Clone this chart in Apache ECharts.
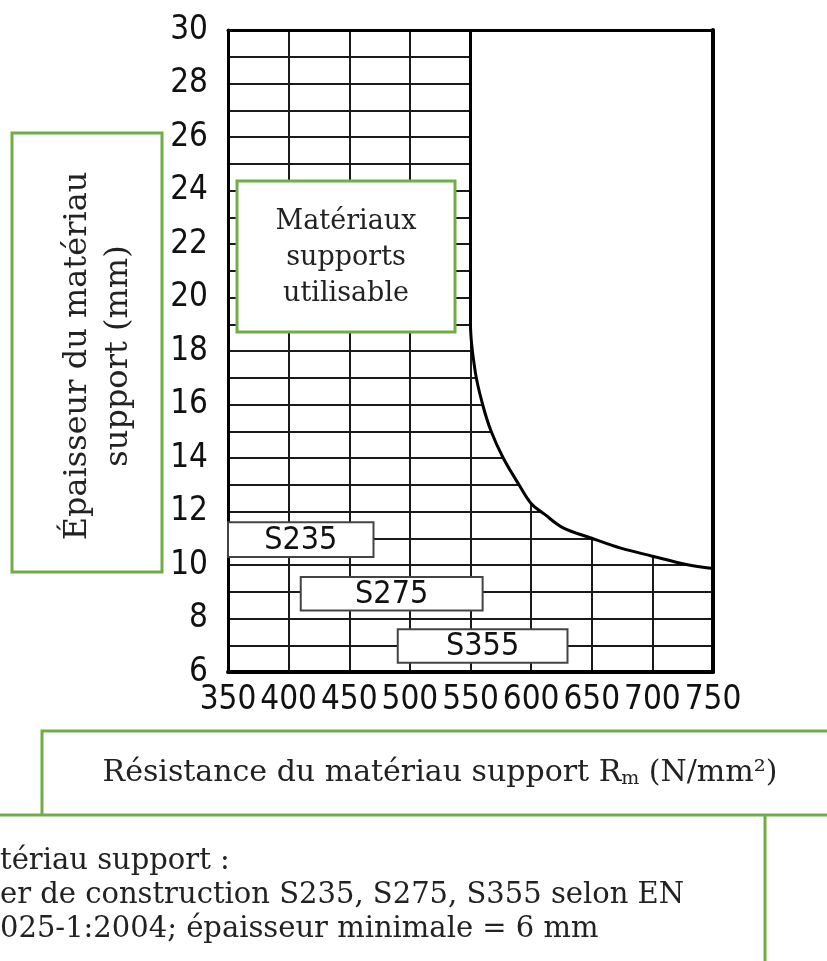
<!DOCTYPE html>
<html>
<head>
<meta charset="utf-8">
<script src="https://cdn.jsdelivr.net/npm/echarts@6/dist/echarts.min.js"></script>
<style>
  html, body { margin: 0; padding: 0; background: #fff; }
  #chart { width: 827px; height: 961px; }
</style>
</head>
<body>
<div id="chart"></div>
<script>
// axes
const xTicks = [350, 400, 450, 500, 550, 600, 650, 700, 750];
const yTicks = [6, 8, 10, 12, 14, 16, 18, 20, 22, 24, 26, 28, 30];

// limit curve (Rm in N/mm², thickness in mm)
const limitRm = [550, 550, 554, 560, 567, 577, 590, 600, 611, 626, 650, 674, 700, 728, 750];
const limitThk = [30, 19, 17.2, 16.0, 15.0, 14.0, 13.0, 12.3, 11.9, 11.4, 11.0, 10.63, 10.33, 10.02, 9.87];

// steel grade boxes
const steelGrades = ["S235", "S275", "S355"];
const steelRmMin = [350, 410, 490];
const steelRmMax = [470, 560, 630];
const steelThkMin = [10.3, 8.3, 6.35];
const steelThkMax = [11.6, 9.55, 7.6];

const GREEN = "#70ad47";
const SERIF = "'DejaVu Serif', 'Liberation Serif', serif";
const NARROW = "'Liberation Sans Narrow', 'DejaVu Sans Condensed', 'Liberation Sans', sans-serif";

const chart = echarts.init(document.getElementById("chart"), null, { renderer: "canvas" });

const gridLine = { show: true, lineStyle: { color: "#1a1a1a", width: 2 } };

const option = {
  animation: false,
  backgroundColor: "#fff",
  grid: { left: 228, right: 114, top: 30, bottom: 289 },
  xAxis: [
    {
      type: "value",
      min: 350,
      max: 750,
      interval: 50,
      axisLine: { show: true, onZero: false, lineStyle: { color: "#000", width: 4 } },
      axisTick: { show: false },
      splitLine: gridLine,
      axisLabel: {
        color: "#111",
        fontFamily: NARROW,
        fontSize: 33,
        margin: 12,
        formatter: (v) => (xTicks.includes(v) ? String(v) : ""),
      },
    },
    {
      type: "value",
      position: "top",
      min: 350,
      max: 750,
      z: 10,
      axisLine: { show: true, onZero: false, lineStyle: { color: "#000", width: 3 } },
      axisTick: { show: false },
      axisLabel: { show: false },
      splitLine: { show: false },
    },
  ],
  yAxis: [
    {
      type: "value",
      min: 6,
      max: 30,
      interval: 1,
      axisLine: { show: true, onZero: false, lineStyle: { color: "#000", width: 3 } },
      axisTick: { show: false },
      splitLine: gridLine,
      axisLabel: {
        color: "#111",
        fontFamily: NARROW,
        fontSize: 33,
        margin: 20,
        formatter: (v) => (yTicks.includes(v) ? String(v) : ""),
      },
    },
    {
      type: "value",
      position: "right",
      min: 6,
      max: 30,
      z: 10,
      axisLine: { show: true, onZero: false, lineStyle: { color: "#000", width: 4 } },
      axisTick: { show: false },
      axisLabel: { show: false },
      splitLine: { show: false },
    },
  ],
  series: [
    {
      name: "limite",
      type: "line",
      z: 5,
      silent: true,
      symbol: "none",
      smooth: 0.35,
      data: limitRm.map((rm, i) => [rm, limitThk[i]]),
      lineStyle: { color: "#000", width: 3 },
      areaStyle: { color: "#fff", opacity: 1, origin: "end" },
    },
    {
      name: "nuances",
      type: "custom",
      z: 15,
      silent: true,
      encode: { x: [0, 1], y: [2, 3] },
      data: steelGrades.map((g, i) => [steelRmMin[i], steelRmMax[i], steelThkMin[i], steelThkMax[i]]),
      renderItem: (params, api) => {
        const p0 = api.coord([api.value(0), api.value(3)]);
        const p1 = api.coord([api.value(1), api.value(2)]);
        return {
          type: "group",
          children: [
            {
              type: "rect",
              shape: { x: p0[0], y: p0[1], width: p1[0] - p0[0], height: p1[1] - p0[1] },
              style: { fill: "#fff", stroke: "#444", lineWidth: 2 },
            },
            {
              type: "text",
              x: (p0[0] + p1[0]) / 2,
              y: (p0[1] + p1[1]) / 2 + 1,
              style: {
                text: steelGrades[params.dataIndex],
                fill: "#111",
                font: "32px " + NARROW,
                align: "center",
                verticalAlign: "middle",
              },
            },
          ],
        };
      },
    },
  ],
  graphic: [
    // box inside the plot
    {
      type: "rect",
      z: 100,
      shape: { x: 237, y: 181, width: 218, height: 151 },
      style: { fill: "#fff", stroke: GREEN, lineWidth: 3 },
    },
    {
      type: "text",
      z: 101,
      x: 346,
      y: 258,
      style: {
        text: "Matériaux\nsupports\nutilisable",
        font: "27px " + SERIF,
        lineHeight: 36,
        fill: "#222",
        align: "center",
        verticalAlign: "middle",
      },
    },
    // y axis title box
    {
      type: "rect",
      z: 100,
      shape: { x: 12, y: 133, width: 150, height: 439 },
      style: { fill: "#fff", stroke: GREEN, lineWidth: 3 },
    },
    {
      type: "text",
      z: 101,
      x: 98,
      y: 356,
      rotation: Math.PI / 2,
      style: {
        text: "Épaisseur du matériau\nsupport (mm)",
        font: "32px " + SERIF,
        lineHeight: 41,
        fill: "#222",
        align: "center",
        verticalAlign: "middle",
      },
    },
    // x axis title box
    {
      type: "polyline",
      z: 100,
      shape: { points: [[42, 815], [42, 731], [840, 731]] },
      style: { stroke: GREEN, lineWidth: 3, fill: null },
    },
    {
      type: "line",
      z: 100,
      shape: { x1: 0, y1: 815, x2: 827, y2: 815 },
      style: { stroke: GREEN, lineWidth: 3 },
    },
    {
      type: "line",
      z: 100,
      shape: { x1: 765, y1: 815, x2: 765, y2: 961 },
      style: { stroke: GREEN, lineWidth: 3 },
    },
    {
      type: "text",
      z: 101,
      x: 440,
      y: 773,
      style: {
        text: "{a|Résistance du matériau support R}{s|m}{a| (N/mm²)}",
        align: "center",
        verticalAlign: "middle",
        rich: {
          a: { font: "30px " + SERIF, fill: "#222" },
          s: { font: "19px " + SERIF, fill: "#222", verticalAlign: "bottom", padding: [12, 0, 0, 0] },
        },
      },
    },
    // note text (cut at the left edge)
    {
      type: "text",
      z: 101,
      x: 0,
      y: 844,
      style: {
        text: "tériau support :\ner de construction S235, S275, S355 selon EN\n025-1:2004; épaisseur minimale = 6 mm",
        font: "29px " + SERIF,
        lineHeight: 34,
        fill: "#222",
        align: "left",
        verticalAlign: "top",
      },
    },
  ],
};

chart.setOption(option);
</script>
</body>
</html>
